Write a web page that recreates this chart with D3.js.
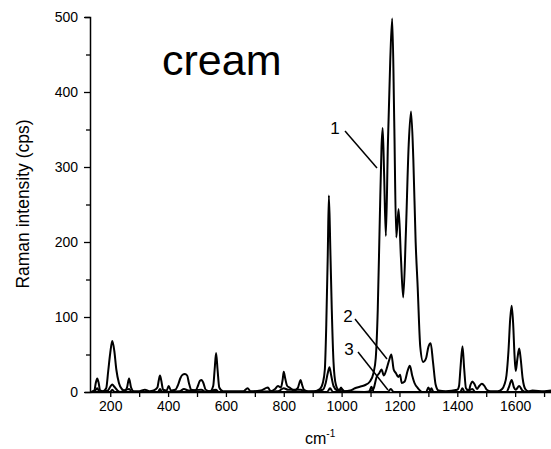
<!DOCTYPE html>
<html>
<head>
<meta charset="utf-8">
<script src="https://cdn.jsdelivr.net/npm/d3@7"></script>
<style>
    body { margin: 0; background: #fff; }
    text { font-family: "Liberation Sans", Arial, sans-serif; fill: #000; }
</style>
</head>
<body>
<div id="chart-area"></div>
<script>
// spectrum 1 (cream, largest)
var wave1 = [135, 145, 150, 155, 160, 165, 175, 186, 193, 200, 207, 214, 221, 230, 240, 250, 258, 265, 272, 282,
    300, 320, 335, 350, 363, 368, 372, 376, 383, 395, 402, 410, 425, 435, 442, 450, 458, 466, 472, 480,
    495, 503, 510, 516, 522, 530, 545, 556, 561, 566, 571, 577, 590, 620, 660, 675, 685, 720, 745, 755,
    770, 780, 790, 796, 800, 805, 812, 820, 835, 848, 854, 858, 863, 870, 885, 905, 925, 935, 942, 947,
    952, 956, 961, 966, 972, 980, 990, 1000, 1010, 1030, 1046, 1063, 1080, 1098, 1110, 1118, 1125, 1132, 1138, 1142,
    1147, 1153, 1160, 1168, 1175, 1182, 1189, 1197, 1205, 1213, 1222, 1232, 1240, 1248, 1256, 1263, 1272, 1282, 1292, 1300,
    1308, 1316, 1325, 1335, 1360, 1400, 1406, 1411, 1418, 1424, 1430, 1440, 1446, 1452, 1460, 1468, 1476, 1485, 1494, 1502,
    1515, 1540, 1555, 1563, 1570, 1577, 1583, 1588, 1593, 1598, 1602, 1608, 1614, 1619, 1626, 1635, 1645, 1660, 1700, 1724];
var int1 = [0, 2, 12, 18, 12, 2, 1, 5, 28, 52, 68, 55, 30, 12, 4, 2, 6, 18, 6, 1,
    1, 3, 1, 2, 6, 16, 22, 16, 3, 2, 8, 2, 3, 10, 18, 23, 24, 22, 12, 3,
    2, 8, 15, 16, 12, 3, 1, 8, 30, 52, 30, 6, 1, 1, 1, 5, 1, 2, 6, 1,
    4, 8, 6, 16, 27, 18, 8, 6, 2, 5, 12, 16, 10, 3, 1, 1, 4, 12, 30, 90,
    180, 262, 190, 110, 40, 10, 3, 4, 1, 2, 5, 7, 9, 14, 25, 45, 110, 230, 327, 352,
    290, 208, 330, 440, 498, 360, 206, 244, 180, 126, 210, 330, 374, 310, 200, 140, 60, 40, 45, 60,
    65, 40, 10, 2, 1, 3, 8, 32, 61, 30, 5, 2, 10, 14, 10, 4, 8, 11, 8, 3,
    1, 1, 4, 10, 22, 55, 98, 115, 92, 48, 28, 45, 58, 45, 18, 4, 1, 2, 1, 2];

// spectrum 2
var wave2 = [135, 150, 155, 163, 192, 200, 207, 214, 225, 235, 265, 275, 365, 372, 380, 440, 455, 470, 515, 530,
    566, 575, 780, 800, 815, 858, 880, 935, 945, 952, 958, 964, 972, 985, 1000, 1080, 1100, 1110, 1121, 1130,
    1138, 1146, 1155, 1164, 1172, 1180, 1188, 1196, 1202, 1208, 1218, 1228, 1236, 1244, 1252, 1264, 1280, 1305, 1310, 1318,
    1410, 1418, 1425, 1445, 1452, 1462, 1570, 1578, 1588, 1596, 1602, 1614, 1625, 1640, 1724];
var int2 = [0, 3, 5, 0, 2, 7, 10, 7, 2, 0, 4, 0, 0, 4, 0, 1, 4, 2, 3, 0,
    3, 0, 1, 5, 3, 3, 0, 3, 12, 25, 33, 22, 8, 2, 1, 0, 1, 4, 20, 25,
    30, 22, 30, 42, 50, 30, 25, 20, 23, 12, 14, 28, 35, 22, 12, 5, 0, 0, 5, 0,
    0, 5, 0, 3, 4, 0, 0, 6, 16, 6, 3, 8, 2, 0, 0];

// spectrum 3
var wave3 = [135, 200, 207, 215, 950, 960, 970, 990, 998, 1006, 1095, 1103, 1111, 1160, 1170, 1180, 1292, 1300, 1308, 1724];
var int3 = [0, 0, 3, 0, 0, 5, 0, 0, 6, 0, 0, 7, 0, 0, 4, 0, 0, 6, 0, 0];

var xTicks = [200, 300, 400, 500, 600, 700, 800, 900, 1000, 1100, 1200, 1300, 1400, 1500, 1600, 1700];
var yTicks = [0, 50, 100, 150, 200, 250, 300, 350, 400, 450, 500];

var labels = [
    { t: "1", x: 335, y: 134, x1: 345, y1: 131, x2: 377, y2: 168 },
    { t: "2", x: 348, y: 322, x1: 355, y1: 319, x2: 387, y2: 359 },
    { t: "3", x: 349, y: 355, x1: 358, y1: 352, x2: 388, y2: 390 }
];

var width = 551, height = 449;

var svg = d3.select("#chart-area")
    .append("svg")
    .attr("width", width)
    .attr("height", height);

var x = d3.scaleLinear().domain([130, 1724]).range([90, 551]);
var y = d3.scaleLinear().domain([0, 500]).range([392, 17]);

// Spectra
var line = d3.line()
    .x(function(d){ return x(d[0]); })
    .y(function(d){ return y(d[1]); })
    .curve(d3.curveMonotoneX);

[[wave1, int1], [wave2, int2], [wave3, int3]].forEach(function(s){
    svg.append("path")
        .attr("fill", "none")
        .attr("stroke", "#000")
        .attr("stroke-width", 2)
        .attr("stroke-linejoin", "round")
        .attr("d", line(d3.zip(s[0], s[1])));
});

// Axes
var xAxis = svg.append("g")
    .attr("transform", "translate(0,392)")
    .call(d3.axisBottom(x).tickValues(xTicks).tickSize(5).tickSizeOuter(0).tickPadding(4)
        .tickFormat(function(d){ return d % 200 == 0 ? d : ""; }));
var yAxis = svg.append("g")
    .attr("transform", "translate(90,0)")
    .call(d3.axisLeft(y).tickValues(yTicks).tickSizeOuter(0).tickPadding(7)
        .tickSize(5)
        .tickFormat(function(d){ return d % 100 == 0 ? d : ""; }));
yAxis.selectAll(".tick line").attr("x2", function(d){ return d % 100 == 0 ? -6 : -4; });
[xAxis, yAxis].forEach(function(a){
    a.select(".domain").attr("stroke-width", 1.5);
    a.selectAll(".tick line").attr("stroke-width", 1.3);
    a.selectAll("text").attr("font-size", "14px").attr("font-family", "Liberation Sans, Arial, sans-serif");
});

// Axis labels
svg.append("text")
    .attr("transform", "translate(29,204) rotate(-90)")
    .attr("text-anchor", "middle")
    .attr("font-size", "17.5px")
    .text("Raman intensity (cps)");
var xl = svg.append("text")
    .attr("x", 305)
    .attr("y", 444)
    .attr("font-size", "16px")
    .text("cm");
xl.append("tspan")
    .attr("dy", -7)
    .attr("font-size", "10px")
    .text("-1");

// Title
svg.append("text")
    .attr("x", 162)
    .attr("y", 75)
    .attr("font-family", "Lato, 'Open Sans', sans-serif")
    .attr("font-size", "43px")
    .text("cream");

// Annotations
labels.forEach(function(l){
    svg.append("text")
        .attr("x", l.x)
        .attr("y", l.y)
        .attr("text-anchor", "middle")
        .attr("font-size", "17px")
        .text(l.t);
    svg.append("line")
        .attr("x1", l.x1).attr("y1", l.y1)
        .attr("x2", l.x2).attr("y2", l.y2)
        .attr("stroke", "#000")
        .attr("stroke-width", 1.5);
});
</script>
</body>
</html>
